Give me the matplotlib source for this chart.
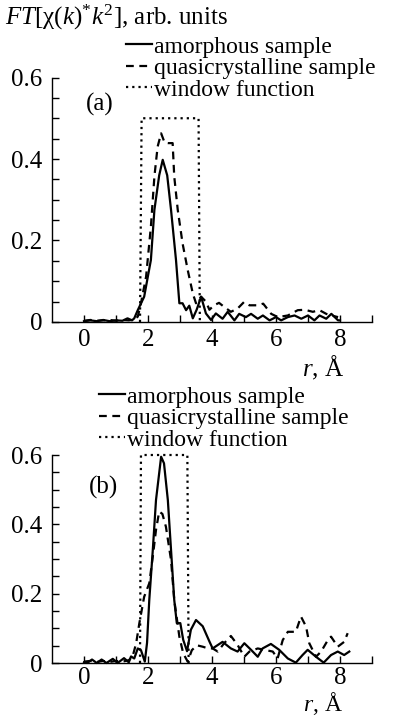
import matplotlib
matplotlib.use("Agg")
import matplotlib.pyplot as plt
from matplotlib.ticker import FixedLocator, MultipleLocator

plt.rcParams['font.family'] = ['Liberation Serif', 'DejaVu Serif']
plt.rcParams['mathtext.fontset'] = 'custom'
plt.rcParams['mathtext.rm'] = 'Liberation Serif'
plt.rcParams['mathtext.it'] = 'Liberation Serif:italic'

FS = 18
FS_LEG = 17

# ---- panel (a) ----
r_amor_a = [0.0, 0.2, 0.4, 0.6, 0.8, 1.0, 1.2, 1.36, 1.5, 1.57, 1.68, 1.88, 2.09, 2.2,
            2.35, 2.46, 2.6, 2.72, 2.875, 2.98, 3.08, 3.19, 3.29, 3.4, 3.52, 3.66, 3.81,
            3.97, 4.12, 4.33, 4.49, 4.7, 4.85, 5.06, 5.22, 5.43, 5.59, 5.8, 6.0, 6.16,
            6.37, 6.58, 6.79, 7.0, 7.2, 7.36, 7.57, 7.73, 7.94, 8.0]
ft_amor_a = [0.002, 0.004, 0.002, 0.005, 0.002, 0.004, 0.003, 0.009, 0.004, 0.009, 0.029,
             0.062, 0.152, 0.275, 0.36, 0.398, 0.36, 0.275, 0.152, 0.046, 0.046, 0.029,
             0.04, 0.009, 0.03, 0.062, 0.021, 0.005, 0.021, 0.008, 0.025, 0.004, 0.02,
             0.012, 0.02, 0.008, 0.016, 0.004, 0.012, 0.004, 0.012, 0.016, 0.008, 0.016,
             0.004, 0.016, 0.008, 0.02, 0.004, 0.004]

r_quasi_a = [0.0, 0.2, 0.4, 0.6, 0.8, 1.0, 1.2, 1.4, 1.55, 1.68, 1.78, 1.94, 2.09, 2.2,
             2.3, 2.41, 2.52, 2.62, 2.77, 2.82, 2.93, 3.08, 3.24, 3.4, 3.5, 3.66, 3.81,
             3.92, 4.06, 4.22, 4.38, 4.59, 4.8, 5.0, 5.17, 5.43, 5.6, 5.85, 6.06, 6.37,
             6.68, 6.9, 7.15, 7.36, 7.57, 7.73, 7.94]
ft_quasi_a = [0.003, 0.005, 0.003, 0.004, 0.005, 0.003, 0.005, 0.004, 0.006, 0.013, 0.046,
              0.111, 0.234, 0.357, 0.43, 0.463, 0.44, 0.439, 0.439, 0.357, 0.275, 0.193,
              0.128, 0.07, 0.046, 0.062, 0.05, 0.03, 0.041, 0.047, 0.037, 0.025, 0.033,
              0.049, 0.041, 0.041, 0.045, 0.02, 0.012, 0.016, 0.029, 0.03, 0.025, 0.029,
              0.02, 0.016, 0.012]

r_win_a = [1.75, 1.8, 3.58, 3.62]
ft_win_a = [0.0, 0.5, 0.5, 0.0]

# ---- panel (b) ----
r_amor_b = [0.0, 0.1, 0.25, 0.4, 0.55, 0.7, 0.9, 1.05, 1.25, 1.4, 1.47, 1.57, 1.68, 1.78,
            1.9, 1.97, 2.04, 2.15, 2.25, 2.41, 2.5, 2.62, 2.72, 2.82, 2.9, 3.01, 3.1,
            3.22, 3.34, 3.5, 3.71, 3.92, 4.02, 4.33, 4.59, 4.8, 5.01, 5.22, 5.43, 5.58,
            5.84, 6.1, 6.37, 6.62, 6.83, 6.99, 7.25, 7.49, 7.72, 7.93, 8.13, 8.29]
ft_amor_b = [0.002, 0.0, 0.01, 0.0, 0.01, 0.0, 0.012, 0.0, 0.014, 0.002, 0.019, 0.013,
             0.042, 0.037, 0.004, 0.058, 0.182, 0.326, 0.47, 0.595, 0.576, 0.47, 0.326,
             0.182, 0.115, 0.115, 0.067, 0.034, 0.096, 0.124, 0.106, 0.062, 0.042, 0.061,
             0.042, 0.033, 0.057, 0.038, 0.018, 0.042, 0.055, 0.038, 0.013, 0.001, 0.023,
             0.038, 0.018, 0.001, 0.023, 0.033, 0.023, 0.033]

r_quasi_b = [0.0, 0.2, 0.4, 0.6, 0.8, 1.0, 1.2, 1.4, 1.52, 1.63, 1.73, 1.88, 2.04, 2.15,
             2.25, 2.35, 2.45, 2.56, 2.72, 2.82, 2.98, 3.1, 3.24, 3.37, 3.53, 3.71, 3.88,
             4.02, 4.18, 4.38, 4.59, 4.8, 5.01, 5.17, 5.43, 5.63, 5.9, 6.05, 6.21, 6.37,
             6.62, 6.78, 6.94, 7.04, 7.25, 7.41, 7.62, 7.72, 7.93, 8.13, 8.24]
ft_quasi_b = [0.004, 0.006, 0.003, 0.006, 0.003, 0.006, 0.004, 0.008, 0.019, 0.057,
              0.115, 0.191, 0.23, 0.307, 0.384, 0.437, 0.43, 0.393, 0.297, 0.182, 0.076,
              0.028, 0.004, 0.037, 0.051, 0.047, 0.042, 0.042, 0.033, 0.057, 0.078, 0.052,
              0.018, 0.033, 0.042, 0.038, 0.033, 0.013, 0.066, 0.09, 0.09, 0.134, 0.105,
              0.057, 0.018, 0.033, 0.066, 0.076, 0.047, 0.061, 0.086]

r_win_b = [1.75, 1.78, 3.23, 3.27]
ft_win_b = [0.0, 0.6, 0.6, 0.0]

labels = ['amorphous sample', 'quasicrystalline sample', 'window function']
yticks = [0, 0.2, 0.4, 0.6]
yticklabels = ['0', '0.2', '0.4', '0.6']
xticks = [0, 2, 4, 6, 8]

W, H = 416, 717
fig = plt.figure(figsize=(W / 100, H / 100), dpi=100)

# axes rectangles in pixels: left, y_of_zero (from top), width, height
ax_a = fig.add_axes([52 / W, 1 - 322 / H, 320 / W, 244.5 / H])
ax_b = fig.add_axes([52 / W, 1 - 663 / H, 320 / W, 208 / H])

panels = [
    (ax_a, r_amor_a, ft_amor_a, r_quasi_a, ft_quasi_a, r_win_a, ft_win_a, '(a)', (0.5, 0.535), 5),
    (ax_b, r_amor_b, ft_amor_b, r_quasi_b, ft_quasi_b, r_win_b, ft_win_b, '(b)', (0.6, 0.505), 3),
]

for ax, ra, fa, rq, fq, rw, fw, tag, tagpos, xpad in panels:
    ax.plot(ra, fa, color='black', lw=1.6, ls='-', clip_on=False)
    ax.plot(rq, fq, color='black', lw=1.6, ls=(0, (3.5, 2.5)), clip_on=False)
    ax.plot(rw, fw, color='black', lw=1.6, ls=(0, (1, 1.8)), clip_on=False)
    ax.set_xlim(-1, 9)
    ax.set_ylim(0, 0.6)
    for s in ['top', 'right']:
        ax.spines[s].set_visible(False)
    for s in ['left', 'bottom']:
        ax.spines[s].set_linewidth(1.0)
    ax.xaxis.set_major_locator(FixedLocator(xticks))
    ax.xaxis.set_minor_locator(FixedLocator([1, 3, 5, 7, 9]))
    ax.yaxis.set_major_locator(FixedLocator(yticks))
    ax.set_yticklabels(yticklabels)
    ax.yaxis.set_minor_locator(MultipleLocator(0.05))
    ax.tick_params(axis='both', which='both', direction='in', width=1.0,
                   labelsize=FS, length=5)
    ax.tick_params(axis='y', pad=7)
    ax.tick_params(axis='x', pad=xpad)
    ax.text(tagpos[0], tagpos[1], tag, fontsize=FS, ha='center', va='center')

# axis labels "r, Å" under each panel
fig.text(323 / W, 1 - 368 / H, '$r$, Å', fontsize=FS, ha='center', va='center')
fig.text(323 / W, 0.0, '$r$, Å', fontsize=17, ha='center', va='bottom')

# legends
leg_kw = dict(frameon=False, fontsize=FS_LEG, handlelength=1.1, handletextpad=0.08,
              labelspacing=0.0, borderpad=0, borderaxespad=0,
              bbox_transform=fig.transFigure, loc='upper left')
ax_a.legend(ax_a.get_lines(), labels, bbox_to_anchor=(126 / W, 1 - 36 / H), **leg_kw)
ax_b.legend(ax_b.get_lines(), labels, bbox_to_anchor=(99 / W, 1 - 386 / H), **leg_kw)

fig.text(5 / W, 1 - 17 / H, r'$FT[\mathrm{\chi}(k)^{*}k^{2}]$, arb. units',
         fontsize=FS, ha='left', va='center')

plt.savefig('out.png', dpi=100)
